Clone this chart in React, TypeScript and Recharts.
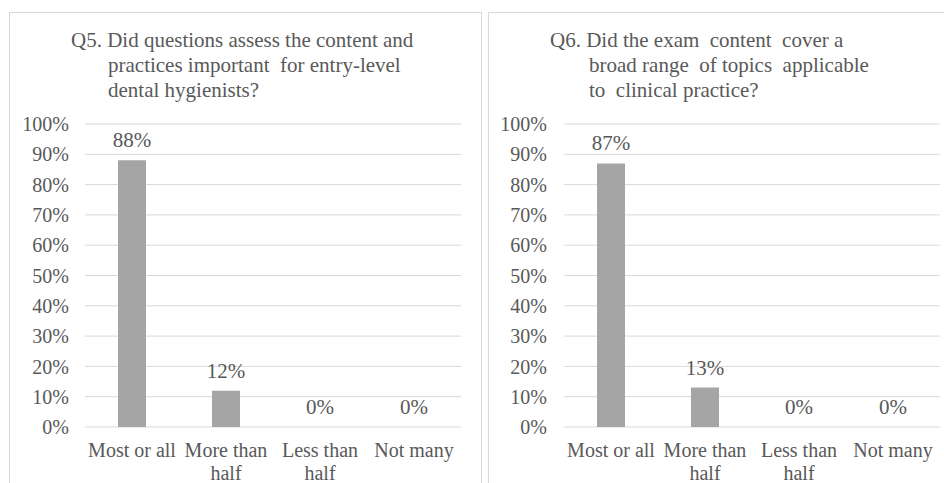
import React from "react";
import { ComposedChart, Bar, Line, XAxis, YAxis, CartesianGrid, LabelList } from "recharts";

const categories = ["Most or all", "More than half", "Less than half", "Not many"];
const categoryLines = [["Most or all"], ["More than", "half"], ["Less than", "half"], ["Not many"]];
const q5Values = [88, 12, 0, 0];
const q6Values = [87, 13, 0, 0];
const yTicks = [0, 10, 20, 30, 40, 50, 60, 70, 80, 90, 100];
const q5TitleLines = ["Q5. Did questions assess the content and", "practices important  for entry-level", "dental hygienists?"];
const q6TitleLines = ["Q6. Did the exam  content  cover a", "broad range  of topics  applicable", "to  clinical practice?"];

const FONT = '"Liberation Serif", "Times New Roman", serif';
const TEXT = "#595959";
const GRID = "#d9d9d9";
const BAR = "#a5a5a5";

const XTick = (props: any) => {
  const { x, y, index } = props;
  const lines = categoryLines[index] || [String(props.payload?.value)];
  return (
    <g>
      {lines.map((l: string, i: number) => (
        <text key={i} x={x} y={y + 30 + i * 23} textAnchor="middle" fill={TEXT} fontSize={20} fontFamily={FONT}>
          {l}
        </text>
      ))}
    </g>
  );
};

const Panel = ({ values, yWidth, tickMargin }: { values: number[]; yWidth: number; tickMargin: number }) => {
  const data = categories.map((c, i) => ({ name: c, value: values[i] }));
  return (
    <ComposedChart width={472} height={483} data={data} margin={{ top: 124, right: 472 - yWidth - 376, bottom: 0, left: 0 }}>
      <CartesianGrid horizontal vertical={false} stroke={GRID} />
      <XAxis dataKey="name" axisLine={false} tickLine={false} tickSize={0} tickMargin={0} height={56} interval={0} tick={<XTick />} />
      <YAxis
        domain={[0, 100]}
        ticks={yTicks}
        width={yWidth}
        axisLine={false}
        tickLine={false}
        tickSize={0}
        tickMargin={tickMargin}
        tickFormatter={(v: number) => `${v}%`}
        tick={{ fill: TEXT, fontSize: 20, fontFamily: FONT }}
        interval={0}
      />
      <Bar dataKey="value" fill={BAR} barSize={28} isAnimationActive={false} />
      <Line dataKey="value" stroke="none" dot={false} activeDot={false} isAnimationActive={false} legendType="none">
        <LabelList
          dataKey="value"
          position="top"
          offset={13}
          formatter={(v: number) => `${v}%`}
          fill={TEXT}
          fontSize={21}
          fontFamily={FONT}
        />
      </Line>
    </ComposedChart>
  );
};

const Title = ({ lines, x1, x2 }: { lines: string[]; x1: number; x2: number }) => (
  <svg width={472} height={110} style={{ position: "absolute", left: 0, top: 0, pointerEvents: "none" }}>
    {lines.map((l, i) => (
      <text key={i} x={i === 0 ? x1 : x2} y={47 + i * 25} fill={TEXT} fontSize={21} fontFamily={FONT} style={{ whiteSpace: "pre" }}>
        {l}
      </text>
    ))}
  </svg>
);

export default function App() {
  return (
    <div style={{ position: "absolute", left: 0, top: 0, width: 944, height: 483, overflow: "hidden", background: "#fff" }}>
      <div style={{ position: "absolute", left: 9, top: 12, width: 471, height: 500, borderLeft: `1px solid ${GRID}`, borderTop: `1px solid ${GRID}`, borderRight: `1px solid ${GRID}` }} />
      <div style={{ position: "absolute", left: 488, top: 12, width: 500, height: 500, borderLeft: `1px solid ${GRID}`, borderTop: `1px solid ${GRID}` }} />
      <div style={{ position: "absolute", left: 0, top: 0, width: 472, height: 483 }}>
        <Panel values={q5Values} yWidth={85} tickMargin={16} />
        <Title lines={q5TitleLines} x1={71} x2={108} />
      </div>
      <div style={{ position: "absolute", left: 472, top: 0, width: 472, height: 483 }}>
        <Panel values={q6Values} yWidth={92} tickMargin={17} />
        <Title lines={q6TitleLines} x1={78} x2={117} />
      </div>
    </div>
  );
}
